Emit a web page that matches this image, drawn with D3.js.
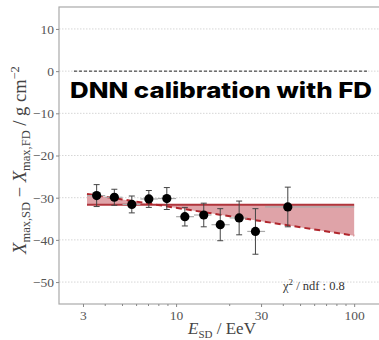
<!DOCTYPE html>
<html>
<head>
<meta charset="utf-8">
<style>
  body { margin: 0; background: #fff; }
  svg { display: block; }
  .tick text { font-family: "Liberation Serif", serif; font-size: 13.5px; fill: #555; }
</style>
</head>
<body>
<svg width="379" height="340"></svg>
<script src="https://d3js.org/d3.v7.min.js"></script>
<script>

// measured points (energy in EeV, Xmax difference in g/cm2)
var energy   = [3.58, 4.50, 5.64, 7.03, 8.87, 11.2, 14.3, 17.7, 22.6, 27.9, 42.4];
var deltaX   = [-29.5, -29.9, -31.6, -30.3, -30.2, -34.5, -34.1, -36.4, -34.8, -38.0, -32.2];
var errDelta = [2.6, 1.9, 2.0, 2.0, 2.6, 2.2, 2.8, 3.8, 4.0, 5.4, 4.7];
var binLo    = [3.16, 4.0, 5.0, 6.3, 7.9, 10, 12.6, 15.8, 20, 25.1, 31.6];
var binHi    = [4.0, 5.0, 6.3, 7.9, 10, 12.6, 15.8, 20, 25.1, 31.6, 100];

// fits
var fitE      = [3.16, 100];
var fitConst  = [-31.7, -31.7];
var fitLinear = [-29.1, -39.0];
var zeroE     = [2.67, 120];

var yTicks = [-50, -40, -30, -20, -10, 0, 10];
var xTicks = [3, 10, 30, 100];
var minorTicks = [4, 5, 6, 7, 8, 9, 20, 40, 50, 60, 70, 80, 90];

var svg = d3.select("svg");
var mLeft = 59, mRight = 385, mTop = 7, mBottom = 304;

var x = d3.scaleLog().domain([2.2, 149]).range([mLeft, mRight]);
var y = d3.scaleLinear().domain([-55.2, 15.2]).range([mBottom, mTop]);

// grid
svg.append("g")
  .selectAll("line")
  .data(yTicks)
  .enter().append("line")
    .attr("x1", mLeft).attr("x2", mRight)
    .attr("y1", function(d) { return y(d); })
    .attr("y2", function(d) { return y(d); })
    .attr("stroke", "#d6d6d6")
    .attr("stroke-dasharray", "1.5,1.5");

// frame
svg.append("rect")
  .attr("x", mLeft).attr("y", mTop)
  .attr("width", mRight - mLeft).attr("height", mBottom - mTop)
  .attr("fill", "none")
  .attr("stroke", "#aaa")
  .attr("stroke-width", 1.2);

// axes
var fmt = function(d) { return d < 0 ? "\u2212" + Math.abs(d) : d; };
var yAxis = svg.append("g")
  .attr("transform", "translate(" + mLeft + ",0)")
  .call(d3.axisLeft(y).tickValues(yTicks).tickSize(3).tickPadding(2).tickFormat(fmt));
yAxis.select(".domain").remove();
yAxis.selectAll(".tick line").attr("stroke", "#888");

var xAxis = svg.append("g")
  .attr("transform", "translate(0," + mBottom + ")")
  .call(d3.axisBottom(x).tickValues(xTicks).tickSize(3).tickPadding(3).tickFormat(d3.format("d")));
xAxis.select(".domain").remove();
xAxis.selectAll(".tick line").attr("stroke", "#888");

svg.append("g")
  .selectAll("line")
  .data(minorTicks)
  .enter().append("line")
    .attr("x1", function(d) { return x(d); })
    .attr("x2", function(d) { return x(d); })
    .attr("y1", mBottom).attr("y2", mBottom + 2)
    .attr("stroke", "#888");

// zero line
svg.append("line")
  .attr("x1", x(zeroE[0])).attr("x2", x(zeroE[1]))
  .attr("y1", y(0)).attr("y2", y(0))
  .attr("stroke", "#222")
  .attr("stroke-dasharray", "3,2");

// band between the two fits
var band = fitE.map(function(e, i) { return { e: e, a: fitConst[i], b: fitLinear[i] }; });
svg.append("path")
  .datum(band)
  .attr("d", d3.area()
    .x(function(d) { return x(d.e); })
    .y0(function(d) { return y(d.a); })
    .y1(function(d) { return y(d.b); }))
  .attr("fill", "#dfa3a8");

var line = d3.line()
  .x(function(d) { return x(d[0]); })
  .y(function(d) { return y(d[1]); });

svg.append("path")
  .attr("d", line(d3.zip(fitE, fitConst)))
  .attr("stroke", "#b0353c").attr("stroke-width", 2).attr("fill", "none");

svg.append("path")
  .attr("d", line(d3.zip(fitE, fitLinear)))
  .attr("stroke", "#b0262c").attr("stroke-width", 2).attr("fill", "none")
  .attr("stroke-dasharray", "6,4");

// data points
var pts = energy.map(function(e, i) {
  return { e: e, v: deltaX[i], err: errDelta[i], lo: binLo[i], hi: binHi[i] };
});

var g = svg.append("g");
g.selectAll(".xerr")
  .data(pts)
  .enter().append("line")
    .attr("x1", function(d) { return x(d.lo); })
    .attr("x2", function(d) { return x(d.hi); })
    .attr("y1", function(d) { return y(d.v); })
    .attr("y2", function(d) { return y(d.v); })
    .attr("stroke", "#aaa").attr("stroke-width", 1.2);

g.selectAll(".yerr")
  .data(pts)
  .enter().append("line")
    .attr("x1", function(d) { return x(d.e); })
    .attr("x2", function(d) { return x(d.e); })
    .attr("y1", function(d) { return y(d.v + d.err); })
    .attr("y2", function(d) { return y(d.v - d.err); })
    .attr("stroke", "#444").attr("stroke-width", 1);

[1, -1].forEach(function(s) {
  g.selectAll(".cap" + s)
    .data(pts)
    .enter().append("line")
      .attr("x1", function(d) { return x(d.e) - 3; })
      .attr("x2", function(d) { return x(d.e) + 3; })
      .attr("y1", function(d) { return y(d.v + s * d.err); })
      .attr("y2", function(d) { return y(d.v + s * d.err); })
      .attr("stroke", "#444").attr("stroke-width", 1);
});

g.selectAll("circle")
  .data(pts)
  .enter().append("circle")
    .attr("cx", function(d) { return x(d.e); })
    .attr("cy", function(d) { return y(d.v); })
    .attr("r", 4.6)
    .attr("fill", "#000");

// labels
var ylab = svg.append("text")
  .attr("transform", "translate(26,160) rotate(-90)")
  .attr("text-anchor", "middle")
  .attr("font-family", "Liberation Serif, serif")
  .attr("font-size", 18.5)
  .attr("fill", "#444");
ylab.append("tspan").attr("font-style", "italic").text("X");
ylab.append("tspan").attr("font-size", 12.5).attr("dy", 4).text("max,SD");
ylab.append("tspan").attr("dy", -4).text(" \u2212 ");
ylab.append("tspan").attr("font-style", "italic").text("X");
ylab.append("tspan").attr("font-size", 12.5).attr("dy", 4).text("max,FD");
ylab.append("tspan").attr("dy", -4).text(" / g cm");
ylab.append("tspan").attr("font-size", 12.5).attr("dy", -7).text("\u22122");

var xlab = svg.append("text")
  .attr("x", 222).attr("y", 334)
  .attr("text-anchor", "middle")
  .attr("font-family", "Liberation Serif, serif")
  .attr("font-size", 17)
  .attr("fill", "#444");
xlab.append("tspan").attr("font-style", "italic").text("E");
xlab.append("tspan").attr("font-size", 11).attr("dy", 4).text("SD");
xlab.append("tspan").attr("dy", -4).text(" / EeV");

var chi = svg.append("text")
  .attr("x", 283).attr("y", 290)
  .attr("font-family", "Liberation Serif, serif")
  .attr("font-size", 12.5)
  .attr("fill", "#333");
chi.append("tspan").text("\u03c7");
chi.append("tspan").attr("font-size", 9).attr("dy", -5).text("2");
chi.append("tspan").attr("dy", 5).text(" / ndf :  0.8");

svg.append("text")
  .attr("x", 70).attr("y", 97.5)
  .attr("font-family", "Inter, sans-serif")
  .attr("font-weight", 800)
  .attr("font-size", 22)
  .attr("textLength", 302)
  .attr("lengthAdjust", "spacingAndGlyphs")
  .attr("fill", "#000")
  .text("DNN calibration with FD");

</script>
</body>
</html>
